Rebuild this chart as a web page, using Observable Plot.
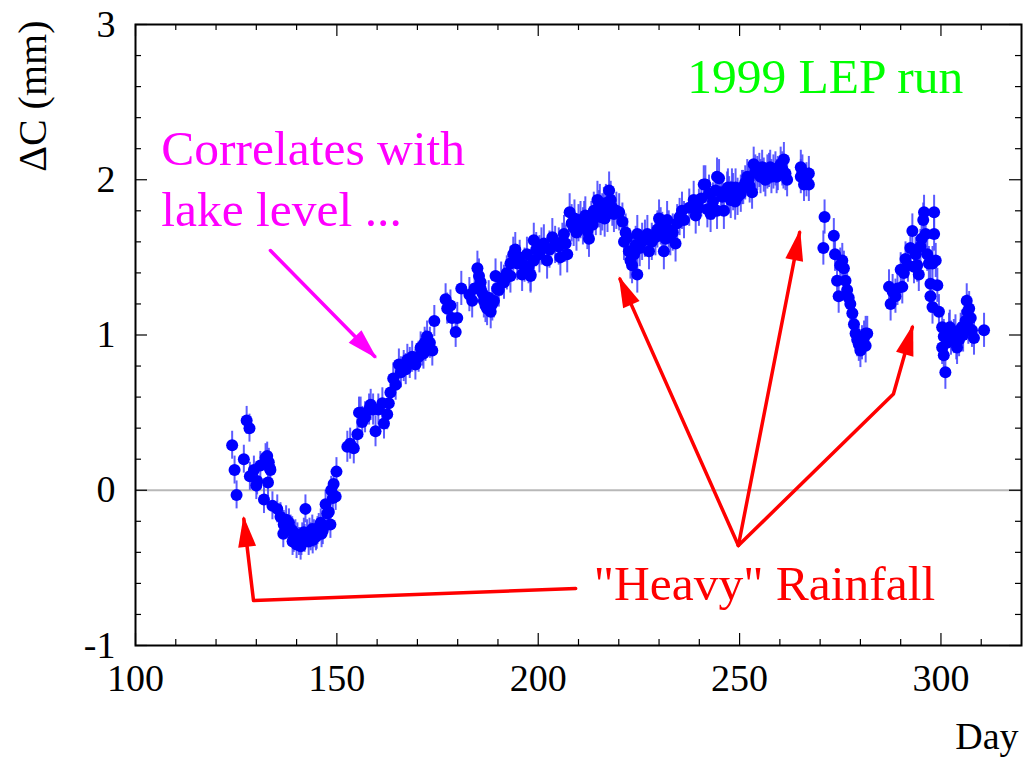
<!DOCTYPE html>
<html><head><meta charset="utf-8">
<script src="https://cdn.jsdelivr.net/npm/d3@7"></script>
<script src="https://cdn.jsdelivr.net/npm/@observablehq/plot@0.6"></script>
<style>body{margin:0;background:#fff} svg{display:block}</style>
</head><body><div id="chart"></div>
<script>
// [day, ΔC (mm), error (mm)]
const points = [
[124.0,0.29,0.09],[124.6,0.13,0.09],[125.1,-0.03,0.09],[126.9,0.20,0.09],[127.6,0.45,0.09],[128.3,0.40,0.09],[128.4,0.09,0.09],
[129.4,0.13,0.09],[130.0,0.03,0.09],[130.2,0.06,0.09],[131.0,0.16,0.09],[131.9,-0.06,0.09],[132.3,0.21,0.09],[132.7,0.22,0.09],
[132.9,0.05,0.09],[133.1,0.18,0.09],[133.4,0.14,0.09],[133.5,0.13,0.09],[134.0,-0.10,0.09],[135.2,-0.12,0.09],
[136.0,-0.17,0.09],[136.7,-0.28,0.09],[136.8,-0.22,0.09],[137.4,-0.19,0.09],[138.1,-0.21,0.09],[138.5,-0.25,0.09],[138.9,-0.26,0.09],
[139.0,-0.33,0.09],[139.3,-0.31,0.09],[139.7,-0.28,0.09],[140.0,-0.35,0.09],[140.2,-0.30,0.09],[140.6,-0.33,0.09],[141.0,-0.36,0.09],
[141.2,-0.33,0.09],[141.4,-0.30,0.09],[141.8,-0.27,0.09],[142.0,-0.31,0.09],
[142.2,-0.12,0.09],[142.6,-0.28,0.09],[143.0,-0.33,0.09],[143.2,-0.27,0.09],[143.5,-0.30,0.09],[143.9,-0.25,0.09],[144.0,-0.32,0.09],
[144.3,-0.28,0.09],[144.8,-0.30,0.09],[145.0,-0.29,0.09],
[145.2,-0.26,0.09],[145.5,-0.24,0.09],[146.0,-0.21,0.09],[146.2,-0.28,0.09],[146.5,-0.26,0.09],[147.2,-0.09,0.09],[147.6,-0.15,0.09],
[148.0,-0.14,0.09],[148.4,-0.22,0.09],[148.6,0.00,0.09],[149.0,-0.05,0.09],[149.2,0.04,0.09],[149.7,-0.04,0.09],[149.9,0.12,0.09],
[152.6,0.28,0.1],[153.3,0.30,0.1],[154.2,0.27,0.1],[155.1,0.36,0.1],[155.5,0.50,0.1],[155.9,0.50,0.1],[156.3,0.44,0.1],
[157.0,0.47,0.1],[158.0,0.52,0.1],[158.4,0.55,0.1],[159.0,0.52,0.1],[159.6,0.38,0.1],[160.3,0.52,0.1],[161.3,0.56,0.1],
[161.7,0.43,0.1],[162.5,0.49,0.1],[162.9,0.56,0.1],[163.3,0.63,0.1],[164.0,0.72,0.1],[164.6,0.68,0.1],
[165.4,0.81,0.1],[165.9,0.76,0.1],[166.6,0.80,0.1],[167.1,0.78,0.1],[167.5,0.84,0.1],[168.1,0.82,0.1],[168.7,0.86,0.1],
[169.5,0.81,0.1],[170.3,0.86,0.1],[170.8,0.92,0.1],[171.2,0.90,0.1],[171.5,0.88,0.1],[171.8,0.95,0.1],[172.0,0.93,0.1],
[172.4,0.99,0.1],[173.1,0.95,0.1],
[173.7,0.90,0.1],[174.2,1.09,0.1],[177.0,1.23,0.1],[177.4,1.17,0.1],[178.2,1.19,0.1],[178.6,1.11,0.1],[179.5,1.02,0.1],[179.9,1.11,0.1],
[180.9,1.30,0.11],[182.9,1.26,0.11],[183.6,1.22,0.11],[184.2,1.30,0.11],[184.9,1.43,0.11],[185.3,1.38,0.11],[185.7,1.34,0.11],
[185.7,1.30,0.11],[186.1,1.27,0.11],[186.5,1.22,0.11],[186.9,1.19,0.11],[187.3,1.17,0.11],[187.7,1.24,0.11],[188.2,1.15,0.11],
[188.6,1.20,0.11],[189.0,1.22,0.11],[189.4,1.38,0.11],[189.8,1.30,0.11],[190.2,1.29,0.11],[190.8,1.36,0.11],[191.5,1.34,0.11],
[192.2,1.40,0.11],[193.1,1.38,0.11],[193.1,1.46,0.11],[193.8,1.52,0.11],[194.3,1.55,0.11],[194.8,1.46,0.11],[195.4,1.50,0.11],
[196.0,1.39,0.11],[196.6,1.45,0.11],[197.2,1.52,0.11],[197.6,1.44,0.11],[198.1,1.39,0.11],[198.1,1.38,0.11],[198.9,1.48,0.11],
[198.9,1.61,0.11],[199.5,1.55,0.11],
[200.3,1.52,0.12],[200.8,1.57,0.12],[201.4,1.59,0.12],[202.2,1.48,0.12],[202.8,1.55,0.12],[203.5,1.63,0.12],[204.2,1.58,0.12],
[205.1,1.57,0.12],[205.5,1.50,0.12],[206.0,1.60,0.12],[206.4,1.65,0.12],[206.8,1.59,0.12],[207.2,1.52,0.12],[207.8,1.79,0.12],
[208.3,1.72,0.12],[208.8,1.69,0.12],[209.0,1.75,0.12],[209.5,1.66,0.12],[210.0,1.72,0.12],[210.5,1.74,0.12],[211.1,1.70,0.12],
[211.4,1.74,0.12],[211.7,1.77,0.12],
[212.2,1.67,0.12],[212.6,1.62,0.12],[213.2,1.74,0.12],[213.5,1.71,0.12],[213.8,1.80,0.12],[214.3,1.76,0.12],[214.7,1.87,0.12],
[215.1,1.81,0.12],[215.3,1.85,0.12],
[215.5,1.76,0.12],[215.9,1.79,0.12],[216.3,1.83,0.12],[216.5,1.75,0.12],[216.8,1.85,0.12],[217.2,1.78,0.12],[217.6,1.93,0.12],
[218.0,1.87,0.12],
[218.4,1.82,0.12],[218.8,1.78,0.12],[219.4,1.80,0.12],[220.1,1.79,0.12],
[220.9,1.73,0.12],[221.3,1.60,0.12],[221.7,1.66,0.12],[222.1,1.63,0.12],[222.5,1.54,0.12],[222.9,1.48,0.12],[223.3,1.45,0.12],
[223.8,1.52,0.12],[224.2,1.58,0.12],[224.6,1.39,0.12],[224.6,1.65,0.12],[225.2,1.56,0.12],[225.8,1.60,0.12],[226.5,1.62,0.12],
[227.1,1.65,0.12],[227.5,1.54,0.12],[228.2,1.60,0.12],[229.1,1.63,0.12],[229.6,1.68,0.12],[230.0,1.75,0.12],[230.4,1.70,0.12],
[230.8,1.67,0.12],[231.2,1.54,0.12],[231.6,1.62,0.12],[232.0,1.74,0.12],[232.4,1.68,0.12],[232.8,1.63,0.12],[233.4,1.66,0.12],
[234.1,1.59,0.12],[234.5,1.72,0.12],[235.1,1.76,0.12],[235.7,1.80,0.12],[236.2,1.74,0.12],[237.5,1.82,0.12],
[238.6,1.87,0.12],[239.1,1.77,0.12],[239.9,1.82,0.12],[240.5,1.88,0.12],[241.1,1.97,0.12],[241.5,1.97,0.12],[242.0,1.81,0.12],
[242.4,1.91,0.12],[242.8,1.78,0.12],[243.4,1.86,0.12],[244.0,1.93,0.12],[244.4,2.02,0.12],[244.4,1.80,0.12],[244.9,2.01,0.12],
[245.4,1.92,0.12],[245.7,1.89,0.12],[246.1,1.80,0.12],[246.9,1.93,0.12],[247.1,1.95,0.12],[247.4,1.90,0.12],[247.8,1.87,0.12],
[248.1,1.95,0.12],[248.4,1.92,0.12],
[248.9,1.86,0.12],[249.0,1.95,0.12],[249.5,1.89,0.12],[250.3,1.91,0.12],
[250.6,1.95,0.11],[250.9,1.95,0.11],[251.4,1.98,0.11],[251.9,2.02,0.11],[252.2,2.00,0.11],[252.5,1.96,0.11],[253.1,1.92,0.11],
[253.5,2.10,0.11],[253.9,2.05,0.11],
[254.4,2.04,0.11],[254.9,2.06,0.11],[255.2,2.02,0.11],[255.6,2.08,0.11],[256.0,2.03,0.11],[256.4,2.00,0.11],[256.9,2.05,0.11],
[257.3,2.06,0.11],[257.6,2.08,0.11],
[257.9,2.02,0.11],[258.4,2.05,0.11],[258.9,2.07,0.11],[259.2,2.02,0.11],[259.5,2.04,0.11],[260.2,2.10,0.11],[260.6,2.07,0.11],
[260.9,2.05,0.11],[261.0,2.13,0.11],
[261.4,2.04,0.11],[261.8,2.00,0.11],
[265.2,2.08,0.11],[265.2,2.02,0.11],[265.6,2.05,0.11],[266.0,1.97,0.11],[266.6,2.00,0.11],[267.2,1.97,0.11],[267.2,2.04,0.11],
[270.8,1.56,0.11],[271.1,1.76,0.11],[273.4,1.64,0.11],[273.7,1.52,0.11],[274.2,1.35,0.11],[274.6,1.25,0.11],[275.0,1.45,0.11],
[275.5,1.48,0.11],[275.9,1.43,0.11],[276.3,1.35,0.11],[276.7,1.29,0.11],[277.1,1.24,0.11],[277.5,1.20,0.11],[278.0,1.14,0.11],
[278.4,1.07,0.11],[278.8,1.01,0.11],[279.2,0.97,0.11],[279.6,0.94,0.11],[280.0,0.90,0.11],[280.4,0.95,0.11],[280.9,0.98,0.11],
[281.3,1.01,0.11],[281.3,0.93,0.11],[281.7,1.01,0.11],
[287.1,1.31,0.11],[287.5,1.20,0.11],[288.0,1.28,0.11],[288.7,1.25,0.11],[289.2,1.30,0.11],[290.0,1.42,0.11],[290.4,1.31,0.11],
[290.8,1.40,0.11],[291.2,1.49,0.11],[291.8,1.45,0.11],[292.4,1.56,0.11],[292.9,1.67,0.11],[293.3,1.44,0.11],[293.7,1.52,0.11],
[294.1,1.45,0.11],[294.5,1.39,0.11],[294.9,1.57,0.11],[295.2,1.62,0.11],[295.6,1.74,0.11],[295.8,1.79,0.11],[296.2,1.65,0.11],
[296.6,1.52,0.11],[297.0,1.46,0.11],[297.4,1.33,0.11],[297.4,1.25,0.11],[297.9,1.46,0.11],[297.9,1.18,0.11],[298.3,1.79,0.11],
[298.3,1.65,0.11],[298.7,1.48,0.11],[299.1,1.32,0.11],[299.5,1.15,0.11],
[300.3,1.05,0.11],[300.3,0.92,0.11],[300.7,0.99,0.11],[300.7,0.87,0.11],[301.1,0.76,0.11],[301.5,0.95,0.11],[302.0,1.03,0.11],
[302.2,1.05,0.11],[302.5,0.98,0.11],[303.2,0.99,0.11],[303.6,1.02,0.11],[303.8,0.95,0.11],[304.0,0.92,0.11],[304.5,0.97,0.11],
[304.9,1.03,0.11],[305.2,1.05,0.11],[305.5,1.00,0.11],
[306.1,1.09,0.11],[306.4,1.22,0.11],[306.6,1.15,0.11],[306.8,1.05,0.11],[307.0,1.17,0.11],[307.4,1.11,0.11],[307.7,1.03,0.11],
[308.2,0.98,0.11],
[310.7,1.03,0.11]
];

const xMajor = [100, 150, 200, 250, 300];
const xLabels = ["100", "150", "200", "250", "300"];
const xMinor = [110,120,130,140,160,170,180,190,210,220,230,240,260,270,280,290,310];
const yMajor = [-1, 0, 1, 2, 3];
const yLabels = ["-1", "0", "1", "2", "3"];
const yMinor = [-0.8,-0.6,-0.4,-0.2,0.2,0.4,0.6,0.8,1.2,1.4,1.6,1.8,2.2,2.4,2.6,2.8];

const annotations = [
  {x: 237.0, y: 2.556, text: "1999 LEP run", color: "#00ff00"},
  {x: 106.4, y: 2.092, text: "Correlates with", color: "#ff00ff"},
  {x: 106.4, y: 1.705, text: "lake level ...", color: "#ff00ff"},
  {x: 213.8, y: -0.710, text: "\"Heavy\" Rainfall", color: "#ff0000"}
];

const arrows = [
  {color: "#ff00ff", path: [[133.5, 1.544], [159.4, 0.862]]},
  {color: "#ff0000", path: [[209.3, -0.633], [129.3, -0.71], [126.9, -0.185]]},
  {color: "#ff0000", path: [[249.7, -0.356], [220.3, 1.36]]},
  {color: "#ff0000", path: [[249.7, -0.356], [264.9, 1.66]]},
  {color: "#ff0000", path: [[249.7, -0.356], [288.2, 0.62], [292.9, 1.05]]}
];

const W = 1027, H = 760;
const mL = 135, mR = 6, mT = 24, mB = 115;
const plotW = W - mL - mR, plotH = H - mT - mB;
const serif = "'Liberation Serif', 'Times New Roman', serif";

function headMarker(color) {
  const ns = "http://www.w3.org/2000/svg";
  const m = document.createElementNS(ns, "marker");
  m.setAttribute("viewBox", "-32 -11 36 22");
  m.setAttribute("markerWidth", 36);
  m.setAttribute("markerHeight", 22);
  m.setAttribute("refX", 0);
  m.setAttribute("refY", 0);
  m.setAttribute("markerUnits", "userSpaceOnUse");
  m.setAttribute("orient", "auto");
  m.setAttribute("overflow", "visible");
  const p = document.createElementNS(ns, "path");
  p.setAttribute("d", "M3,0 L-28,-9 L-28,9 Z");
  p.setAttribute("fill", color);
  p.setAttribute("stroke", "none");
  m.appendChild(p);
  return m;
}

const arrowMarks = arrows.map(a => Plot.line(a.path, {
  x: d => d[0], y: d => d[1], stroke: a.color, strokeWidth: 3.5,
  markerEnd: headMarker, curve: "linear"
}));

const chart = Plot.plot({
  width: W, height: H,
  marginLeft: mL, marginRight: mR, marginTop: mT, marginBottom: mB,
  style: {fontFamily: serif, background: "white", overflow: "visible"},
  x: {domain: [100, 320], axis: null},
  y: {domain: [-1, 3], axis: null},
  color: {type: "identity"},
  marks: [
    Plot.ruleY([0], {stroke: "#b8b8b8", strokeWidth: 2}),
    Plot.ruleX(points, {x: d => d[0], y1: d => d[1] - d[2], y2: d => d[1] + d[2], stroke: "#3f3fff", strokeWidth: 2, strokeOpacity: 0.85}),
    Plot.dot(points, {x: d => d[0], y: d => d[1], r: 6, fill: "#0000ff", stroke: "none"}),
    // inward ticks on all four sides
    Plot.tickX(xMajor, {x: d => d, insetTop: plotH - 12, stroke: "black", strokeWidth: 1.2}),
    Plot.tickX(xMinor, {x: d => d, insetTop: plotH - 6, stroke: "black", strokeWidth: 1.2}),
    Plot.tickX(xMajor, {x: d => d, insetBottom: plotH - 12, stroke: "black", strokeWidth: 1.2}),
    Plot.tickX(xMinor, {x: d => d, insetBottom: plotH - 6, stroke: "black", strokeWidth: 1.2}),
    Plot.tickY(yMajor, {y: d => d, insetRight: plotW - 12, stroke: "black", strokeWidth: 1.2}),
    Plot.tickY(yMinor, {y: d => d, insetRight: plotW - 6, stroke: "black", strokeWidth: 1.2}),
    Plot.tickY(yMajor, {y: d => d, insetLeft: plotW - 12, stroke: "black", strokeWidth: 1.2}),
    Plot.tickY(yMinor, {y: d => d, insetLeft: plotW - 6, stroke: "black", strokeWidth: 1.2}),
    Plot.frame({stroke: "black", strokeWidth: 2}),
    // tick labels
    Plot.text(xMajor, {x: d => d, text: (d, i) => xLabels[i], frameAnchor: "bottom", lineAnchor: "bottom", dy: 45, fontSize: 38, fill: "black"}),
    Plot.text(yMajor, {y: d => d, text: (d, i) => yLabels[i], frameAnchor: "left", textAnchor: "end", lineAnchor: "middle", dx: -20, fontSize: 38, fill: "black"}),
    // axis titles
    Plot.text(["ΔC (mm)"], {frameAnchor: "top-left", rotate: -90, textAnchor: "end", lineAnchor: "bottom", dx: -90, dy: -4, fontSize: 40, fill: "black"}),
    Plot.text(["Day"], {frameAnchor: "bottom-right", textAnchor: "end", lineAnchor: "bottom", dx: -3, dy: 103, fontSize: 38, fill: "black"}),
    // annotations
    Plot.text(annotations, {x: "x", y: "y", text: "text", fill: "color", textAnchor: "start", lineAnchor: "bottom", fontSize: 49.5}),
    ...arrowMarks
  ]
});
document.getElementById("chart").appendChild(chart);
</script>
</body></html>
